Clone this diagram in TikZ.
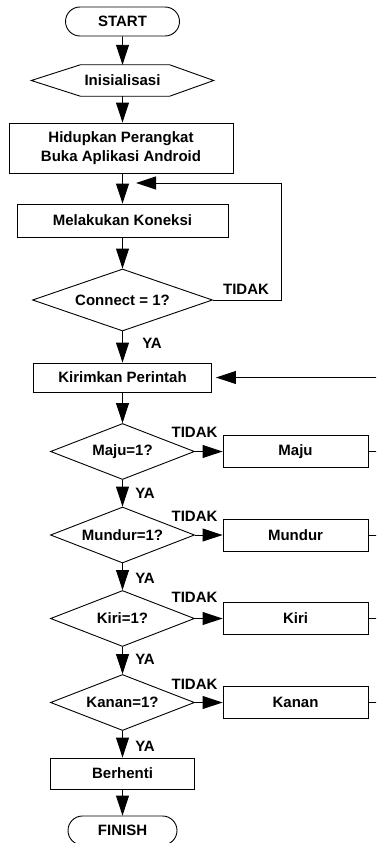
\documentclass[tikz,border=0pt]{standalone}
\usepackage{fontspec}
\setmainfont{Liberation Sans}
\usetikzlibrary{shapes.geometric,shapes.misc,arrows.meta}
\begin{document}
\begin{tikzpicture}[x=1pt,y=-1pt,
  every node/.style={font=\fontsize{15}{19}\selectfont\bfseries, inner sep=0pt},
  ln/.style={line width=0.9pt},
  box/.style={draw, rectangle, ln},
  term/.style={draw, rounded rectangle, ln, minimum height=29pt},
  dec/.style={draw, diamond, ln, aspect=2.57, minimum width=144pt, minimum height=56pt},
  sidebox/.style={box, minimum width=145pt, minimum height=32pt},
  arr/.style={ln, -{Triangle[length=20pt,width=13pt]}}]
\useasboundingbox (0,0) rectangle (376,843);
\fill[white] (0,0) rectangle (376,843);
\clip (0,0) rectangle (376,843);

% main column
\node[term, minimum width=114pt] (start) at (122.5,21.5) {START};
\node[minimum width=182pt, minimum height=31pt] (init) at (122.5,80.5) {Inisialisasi};
\draw[ln] (init.west) -- ([xshift=49pt]init.north west) -- ([xshift=-44pt]init.north east)
  -- (init.east) -- ([xshift=-44pt]init.south east) -- ([xshift=49pt]init.south west) -- cycle;
\node[box, minimum width=224pt, minimum height=50pt, align=center] (hid) at (121,148)
  {Hidupkan Perangkat\\Buka Aplikasi Android};
\node[box, minimum width=211pt, minimum height=33pt] (mel) at (122.5,220.5) {Melakukan Koneksi};
\node[draw, diamond, ln, aspect=2.9, minimum width=180pt, minimum height=62pt] (conn) at (122.5,300) {Connect = 1?};
\node[box, minimum width=178pt, minimum height=29pt] (kir) at (122.5,377.5) {Kirimkan Perintah};
\node[dec] (dmaju) at (122.5,451.5) {Maju=1?};
\node[dec] (dmundur) at (122.5,535) {Mundur=1?};
\node[dec] (dkiri) at (122.5,618.5) {Kiri=1?};
\node[dec] (dkanan) at (122.5,702.5) {Kanan=1?};
\node[box, minimum width=144pt, minimum height=31pt] (stop) at (122.5,773.5) {Berhenti};
\node[term, minimum width=109pt] (finish) at (122.5,830.5) {FINISH};

% side boxes
\node[sidebox] (bmaju) at (295.5,451.5) {Maju};
\node[sidebox] (bmundur) at (295.5,535) {Mundur};
\node[sidebox] (bkiri) at (295.5,618.5) {Kiri};
\node[sidebox] (bkanan) at (295.5,702.5) {Kanan};

% main arrows
\draw[arr] (start) -- (init);
\draw[arr] (hid.south -| init.south) -- (mel);
\draw[arr] (init) -- (hid.north -| init.south);
\draw[arr] (mel) -- (conn);
\draw[arr] (conn) -- (kir);
\draw[arr] (kir) -- (dmaju);
\draw[arr] (dmaju) -- (dmundur);
\draw[arr] (dmundur) -- (dkiri);
\draw[arr] (dkiri) -- (dkanan);
\draw[arr] (dkanan) -- (stop);
\draw[arr] (stop) -- (finish);

% loop back for connection
\coordinate (lc) at (281,183);
\coordinate (lin) at (136,183);
\draw[arr] (conn.east) -| (lc) -- (lin);

% return into Kirimkan Perintah
\coordinate (rr) at (380,0);
\coordinate (kin) at (380,377.5);
\draw[arr, shorten >=4pt] (kin) -- (kir.east);

% TIDAK branches
\draw[arr] (dmaju.east) -- (bmaju.west);
\draw[arr] (dmundur.east) -- (bmundur.west);
\draw[arr] (dkiri.east) -- (bkiri.west);
\draw[arr] (dkanan.east) -- (bkanan.west);
\draw[ln] (bmaju.east) -- (bmaju.east -| rr);
\draw[ln] (bmundur.east) -- (bmundur.east -| rr);
\draw[ln] (bkiri.east) -- (bkiri.east -| rr);
\draw[ln] (bkanan.east) -- (bkanan.east -| rr);

% labels
\node (t0) at (246,289) {TIDAK};
\node (t1) at (194.5,432) {TIDAK};
\node (t2) at (194.5,516) {TIDAK};
\node (t3) at (194.5,597) {TIDAK};
\node (t4) at (194.5,684) {TIDAK};
\node (y0) at (152,343) {YA};
\node (y1) at (145,493) {YA};
\node (y2) at (145,578) {YA};
\node (y3) at (145,659) {YA};
\node (y4) at (145,746) {YA};
\end{tikzpicture}
\end{document}
